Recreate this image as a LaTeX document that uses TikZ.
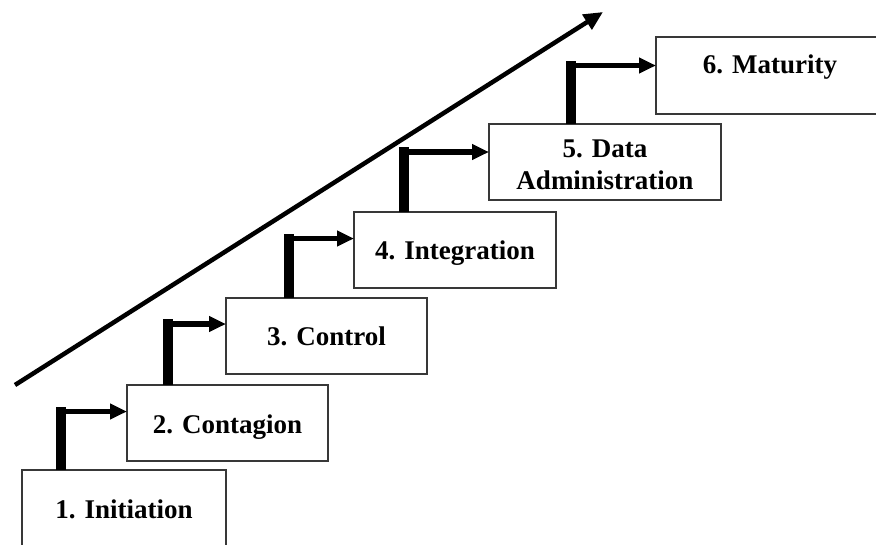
\documentclass[tikz,border=0pt]{standalone}
\usepackage{fontspec}
\setmainfont{Liberation Serif}
\usetikzlibrary{arrows.meta,calc}

\tikzset{
  stagebox/.style={draw=black!78, line width=1.2pt, fill=white, rectangle,
    inner sep=0pt, outer sep=0pt},
  stagetext/.style={anchor=base, inner sep=0pt,
    font=\bfseries\fontsize{27}{32}\selectfont},
  riser/.style={line width=9.5pt, line cap=butt, black},
  runner/.style={line width=5.5pt, line cap=butt, black,
    -{Triangle[length=17pt,width=15pt]}},
  growth/.style={line width=4.5pt, black, line cap=butt,
    -{Triangle[length=19pt,width=17pt]}}
}

\begin{document}
\begin{tikzpicture}[x=1pt, y=-1pt]
  \useasboundingbox (0,0) rectangle (876,544);
  \clip (0,0) rectangle (876,544);

  % rising trend line
  \coordinate (g0) at (15,385);
  \coordinate (g1) at (603,12);
  \draw[growth] (g0) -- (g1);

  % the six stages
  \node[stagebox, minimum width=204pt, minimum height=90pt] (b1) at (124,515) {};
  \node[stagebox, minimum width=201pt, minimum height=76pt] (b2) at (227.5,423) {};
  \node[stagebox, minimum width=201pt, minimum height=76pt] (b3) at (326.5,336) {};
  \node[stagebox, minimum width=202pt, minimum height=76pt] (b4) at (455,250) {};
  \node[stagebox, minimum width=232pt, minimum height=76pt] (b5) at (605,162) {};
  \node[stagebox, minimum width=244pt, minimum height=77pt] (b6) at (778,75.5) {};

  \node[stagetext] (t1) at (124,518) {1. Initiation};
  \node[stagetext] (t2) at (227.5,433) {2. Contagion};
  \node[stagetext] (t3) at (326.5,345) {3. Control};
  \node[stagetext] (t4) at (455,259) {4. Integration};
  \node[stagetext] (t5a) at (605,157) {5. Data};
  \node[stagetext] (t5b) at (605,189) {Administration};
  \node[stagetext] (t6) at (770,73) {6. Maturity};

  % step connectors: corner points of each bent arrow
  \coordinate (s1) at (61,411.5);
  \coordinate (s2) at (168,324);
  \coordinate (s3) at (289,238.5);
  \coordinate (s4) at (404,152);
  \coordinate (s5) at (571,65.5);

  \foreach \i/\j in {1/2,2/3,3/4,4/5,5/6}{
    \draw[riser] (b\i.north -| s\i) -- ([yshift=4.75pt]s\i);
    \draw[runner] ([xshift=-4.75pt]s\i) -- (s\i -| b\j.west);
  }
\end{tikzpicture}
\end{document}
